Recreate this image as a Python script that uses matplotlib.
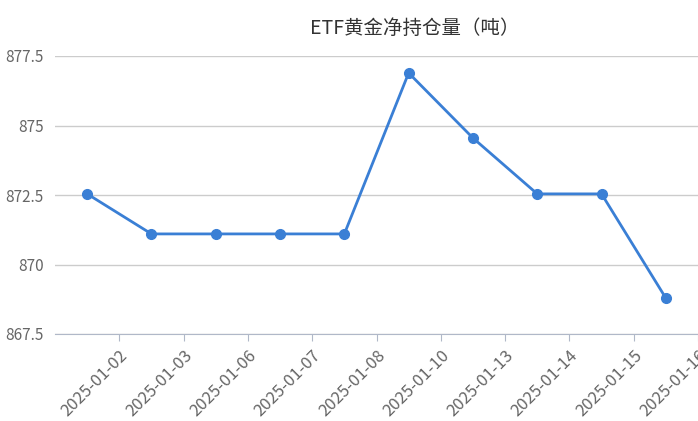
import matplotlib.pyplot as plt

plt.rcParams['font.family'] = ['Noto Sans CJK SC', 'DejaVu Sans']

dates = ['2025-01-02', '2025-01-03', '2025-01-06', '2025-01-07', '2025-01-08',
         '2025-01-10', '2025-01-13', '2025-01-14', '2025-01-15', '2025-01-16']
holdings = [872.54, 871.1, 871.1, 871.1, 871.1, 876.89, 874.55, 872.54, 872.54, 868.79]
yticks = [867.5, 870, 872.5, 875, 877.5]
ylabels = ['867.5', '870', '872.5', '875', '877.5']

fig = plt.figure(figsize=(6.98, 4.21), dpi=100)
ax = fig.add_axes([55 / 698, 1 - 334 / 421, 643 / 698, 278 / 421])

x = range(len(dates))
ax.plot(x, holdings, color='#3a7fd5', lw=2, marker='o', ms=7, zorder=3)
ax.set_xlim(-0.5, len(dates) - 0.5)
ax.set_ylim(867.5, 877.5)
ax.set_yticks(yticks)
ax.set_yticklabels(ylabels, color='#666666', fontsize=11)
ax.set_xticks([i + 0.5 for i in x])
ax.set_xticklabels(dates, rotation=45, ha='right', rotation_mode='anchor',
                   color='#666666', fontsize=12)
ax.grid(axis='y', color='#cccccc', lw=1)
ax.tick_params(axis='y', length=0, pad=8)
ax.tick_params(axis='x', length=5, color='#b0b8c8', pad=4)
for s in ['top', 'right', 'left']:
    ax.spines[s].set_visible(False)
ax.spines['bottom'].set_color('#b0b8c8')
ax.set_axisbelow(True)
fig.text(415 / 698, 1 - 28 / 421, 'ETF黄金净持仓量（吨）', ha='center', va='center',
         fontsize=14, color='#333333')
fig.savefig('out.png', dpi=100)
